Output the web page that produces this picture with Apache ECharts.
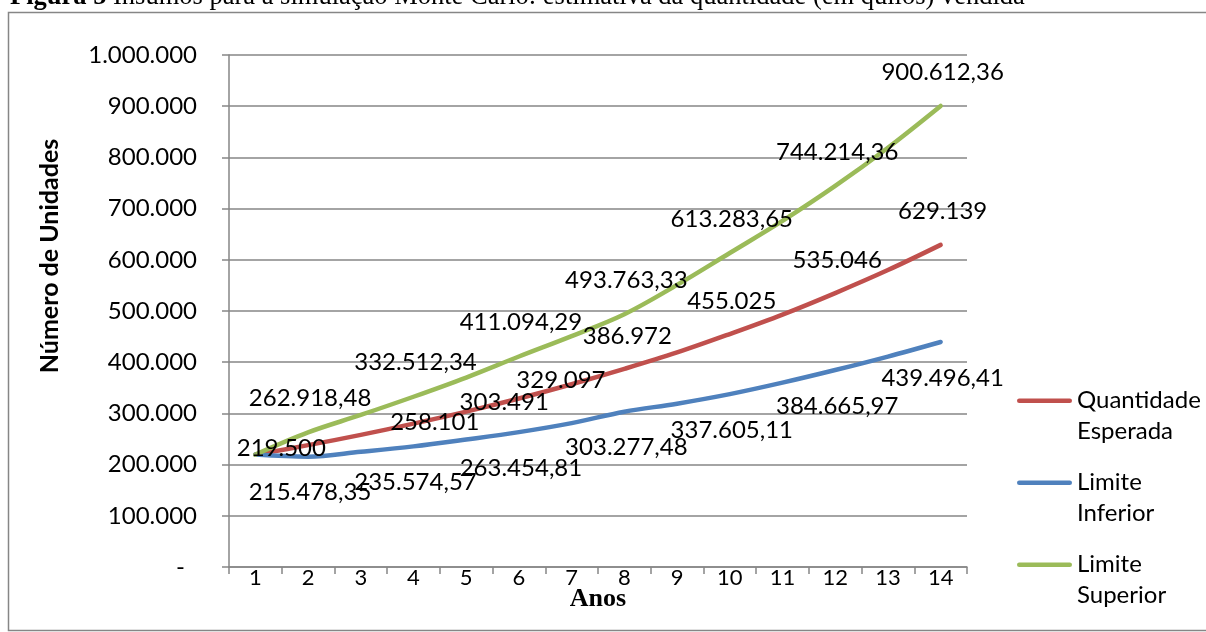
<!DOCTYPE html>
<html>
<head>
<meta charset="utf-8">
<script src="https://cdn.jsdelivr.net/npm/echarts@6/dist/echarts.min.js"></script>
<style>
  html, body { margin: 0; padding: 0; background: #ffffff; }
  #chart { width: 1206px; height: 632px; }
</style>
</head>
<body>
<div id="chart"></div>
<script>
// Anos da simulação (eixo X)
const anos = ['1', '2', '3', '4', '5', '6', '7', '8', '9', '10', '11', '12', '13', '14'];

// Quantidade esperada por ano (unidades)
const quantidadeEsperada = [219500, 238000, 258101, 280000, 303491, 329097, 357000, 386972, 419000, 455025, 493000, 535046, 580000, 629139];

// Limite inferior do intervalo simulado
const limiteInferior = [219500, 215478.35, 225000, 235574.57, 249000, 263454.81, 281000, 303277.48, 319000, 337605.11, 360000, 384665.97, 411000, 439496.41];

// Limite superior do intervalo simulado
const limiteSuperior = [219500, 262918.48, 297000, 332512.34, 370000, 411094.29, 451000, 493763.33, 551000, 613283.65, 676000, 744214.36, 819000, 900612.36];

// Pontos que recebem rótulo de valor (índices dos anos)
const rotulosEsperada = [0, 2, 4, 5, 7, 9, 11, 13];
const rotulosLimites = [1, 3, 5, 7, 9, 11, 13];

// Deslocamento dos rótulos em relação ao ponto [x, y]
const deslocEsperada = [[26, -6], [74, -13], [38, -9], [42, -18], [3, -33], [2, -33], [2, -33], [2, -34]];
const deslocInferior = [2, 36];
const deslocSuperior = [2, -34];

const FONT = 'Lato';
const GRAY = '#868686';

// Formato numérico brasileiro: 1.234.567,89
function fmtBR(v, dec) {
  const s = Number(v).toFixed(dec);
  const parts = s.split('.');
  const inteiro = parts[0].replace(/\B(?=(\d{3})+(?!\d))/g, '.');
  return parts.length > 1 ? inteiro + ',' + parts[1] : inteiro;
}

function montaDados(valores, rotulados, desloc, dec) {
  return valores.map(function (v, i) {
    const k = rotulados.indexOf(i);
    if (k < 0) return { value: v };
    const off = Array.isArray(desloc[0]) ? desloc[k] : desloc;
    return {
      value: v,
      label: { show: true, offset: off, formatter: function () { return fmtBR(v, dec); } }
    };
  });
}

const rotuloBase = {
  show: false,
  position: 'inside',
  fontFamily: FONT,
  fontSize: 24,
  color: '#000000'
};

function serie(nome, cor, dados) {
  return {
    name: nome,
    type: 'line',
    smooth: 0.35,
    symbol: 'circle',
    symbolSize: 2,
    showSymbol: true,
    itemStyle: { color: cor },
    lineStyle: { color: cor, width: 4.5, cap: 'round', join: 'round' },
    label: rotuloBase,
    emphasis: { disabled: true },
    data: dados
  };
}

const chart = echarts.init(document.getElementById('chart'), null, { renderer: 'canvas' });

chart.setOption({
  backgroundColor: '#ffffff',
  animation: false,
  title: {
    text: '{b|Figura 5} Insumos para a simulação Monte Carlo: estimativa da quantidade (em quilos) vendida',
    left: 10,
    top: -16,
    padding: 0,
    textStyle: {
      fontFamily: 'Liberation Serif',
      fontSize: 26.5,
      fontWeight: 'normal',
      color: '#000000',
      rich: {
        b: { fontFamily: 'Liberation Serif', fontSize: 26.5, fontWeight: 'bold', color: '#000000' }
      }
    }
  },
  graphic: [{
    type: 'rect',
    shape: { x: 8.5, y: 12.5, width: 1205, height: 618 },
    style: { fill: null, stroke: GRAY, lineWidth: 1.5 },
    silent: true,
    z: -1
  }],
  grid: { left: 229, right: 239, top: 55, bottom: 65, outerBoundsMode: 'none' },
  legend: {
    orient: 'vertical',
    left: 1017,
    top: 385,
    padding: 0,
    itemWidth: 55,
    itemHeight: 35,
    itemGap: 20,
    selectedMode: false,
    icon: 'path://M2.25,0L52.75,0A2.25,2.25,0,0,1,52.75,4.5L2.25,4.5A2.25,2.25,0,0,1,2.25,0ZM0,35L0,35',
    itemStyle: { borderWidth: 0 },
    formatter: function (name) { return name.replace(' ', '\n'); },
    textStyle: { fontFamily: FONT, fontSize: 24, color: '#000000', lineHeight: 31 },
    data: ['Quantidade Esperada', 'Limite Inferior', 'Limite Superior']
  },
  xAxis: {
    type: 'category',
    data: anos,
    boundaryGap: true,
    name: 'Anos',
    nameLocation: 'middle',
    nameGap: 19,
    nameMoveOverlap: false,
    nameTextStyle: { fontFamily: 'Liberation Serif', fontSize: 26, fontWeight: 'bold', color: '#000000' },
    axisLine: { show: true, lineStyle: { color: GRAY, width: 1.5 } },
    axisTick: { show: true, alignWithLabel: false, length: 7, lineStyle: { color: GRAY, width: 1.5 } },
    axisLabel: { fontFamily: FONT, fontSize: 22, color: '#000000', margin: 0, interval: 0 },
    splitLine: { show: false }
  },
  yAxis: {
    type: 'value',
    min: 0,
    max: 1000000,
    interval: 100000,
    name: 'Número de Unidades',
    nameLocation: 'middle',
    nameGap: 167,
    nameMoveOverlap: false,
    nameTextStyle: { fontFamily: FONT, fontSize: 25, fontWeight: 'bold', color: '#000000', padding: [0, 0, 0, 110] },
    axisLine: { show: true, lineStyle: { color: GRAY, width: 1.5 } },
    axisTick: { show: true, length: 7, lineStyle: { color: GRAY, width: 1.5 } },
    axisLabel: {
      fontFamily: FONT,
      fontSize: 24,
      color: '#000000',
      margin: 32,
      formatter: function (v) { return v === 0 ? '{z|-}' : fmtBR(v, 0); },
      rich: { z: { fontFamily: FONT, fontSize: 24, color: '#000000', padding: [0, 12, 0, 0] } }
    },
    splitLine: { show: true, lineStyle: { color: GRAY, width: 1.5 } }
  },
  series: [
    serie('Quantidade Esperada', '#C0504D', montaDados(quantidadeEsperada, rotulosEsperada, deslocEsperada, 0)),
    serie('Limite Inferior', '#4F81BD', montaDados(limiteInferior, rotulosLimites, deslocInferior, 2)),
    serie('Limite Superior', '#9BBB59', montaDados(limiteSuperior, rotulosLimites, deslocSuperior, 2))
  ]
});
</script>
</body>
</html>
